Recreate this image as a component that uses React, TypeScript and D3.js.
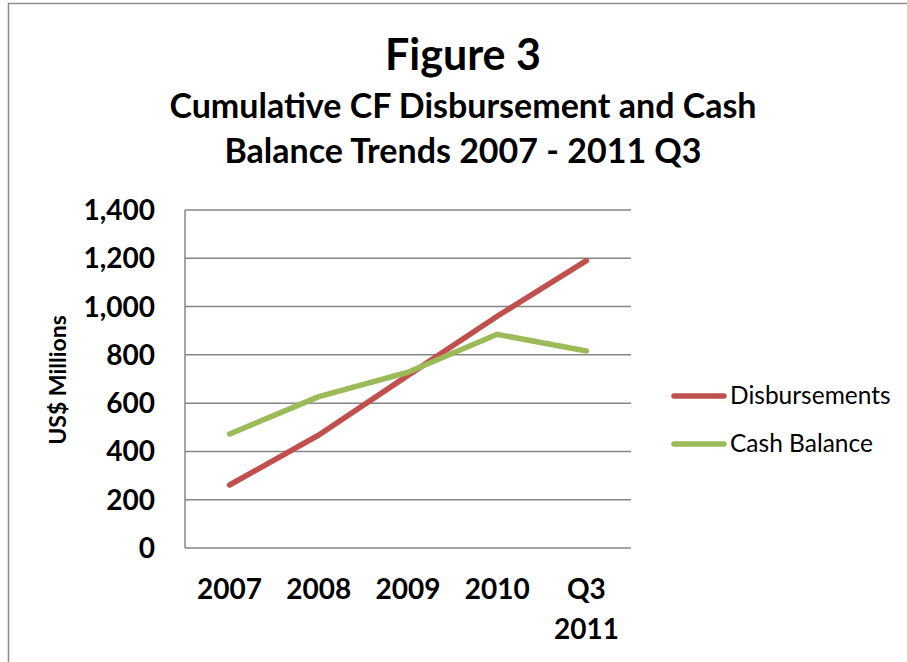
import React from "react";
import * as d3 from "d3";

// данные с графика
const categories = ["2007", "2008", "2009", "2010", "Q3 2011"];
const disbursements = [261, 468, 715, 960, 1190];
const cashBalance = [472, 627, 728, 885, 816];
const yTicks = [0, 200, 400, 600, 800, 1000, 1200, 1400];

const series = [
	{ name: "Disbursements", values: disbursements, color: "#C0504D" },
	{ name: "Cash Balance", values: cashBalance, color: "#9BBB59" },
];

const W = 907;
const H = 662;
const plot = { left: 185, right: 631, top: 210, bottom: 548 };
const font = "Lato, 'Open Sans', sans-serif";

export default function App() {
	const xScale = d3
		.scaleBand()
		.domain(categories)
		.range([plot.left, plot.right]);
	const yScale = d3
		.scaleLinear()
		.domain([0, 1400])
		.range([plot.bottom, plot.top]);
	const cx = (c: string) => (xScale(c) || 0) + xScale.bandwidth() / 2;

	const line = d3
		.line<number>()
		.x((_, i) => cx(categories[i]))
		.y((d) => yScale(d));

	const fmt = d3.format(",");

	return (
		<svg
			width={W}
			height={H}
			style={{ position: "absolute", left: 0, top: 0, background: "#fff" }}
			fontFamily={font}
		>
			<rect x={8.5} y={3.5} width={1000} height={1000} fill="#fff" stroke="#8c8c8c" strokeWidth={1.5} />

			{/* заголовок */}
			<g textAnchor="middle" fontWeight="bold" fill="#000">
				<text x={463} y={70} fontSize={43}>Figure 3</text>
				<text x={463} y={118} fontSize={34}>Cumulative CF Disbursement and Cash</text>
				<text x={463} y={163} fontSize={34}>Balance Trends 2007 - 2011 Q3</text>
			</g>

			{/* сетка */}
			{yTicks.map((t) => (
				<line
					key={t}
					x1={plot.left}
					x2={plot.right}
					y1={yScale(t)}
					y2={yScale(t)}
					stroke="#868686"
					strokeWidth={1.5}
				/>
			))}
			<line x1={plot.left} x2={plot.left} y1={plot.top} y2={plot.bottom} stroke="#868686" strokeWidth={1.5} />

			{/* подписи оси Y */}
			<g textAnchor="end" fontWeight="bold" fontSize={28}>
				{yTicks.map((t) => (
					<text key={t} x={155} y={yScale(t) + 10}>{fmt(t)}</text>
				))}
			</g>
			<text
				transform="translate(66,380) rotate(-90)"
				textAnchor="middle"
				fontWeight="bold"
				fontSize={23}
			>
				US$ Millions
			</text>

			{/* подписи оси X */}
			<g textAnchor="middle" fontWeight="bold" fontSize={28}>
				{categories.map((c) => (
					<text key={c} x={cx(c)} y={599}>
						{c.split(" ").map((part, i) => (
							<tspan key={i} x={cx(c)} dy={i === 0 ? 0 : 40}>{part}</tspan>
						))}
					</text>
				))}
			</g>

			{/* линии */}
			{series.map((s) => (
				<path
					key={s.name}
					d={line(s.values) || ""}
					fill="none"
					stroke={s.color}
					strokeWidth={5.5}
					strokeLinecap="round"
					strokeLinejoin="round"
				/>
			))}

			{/* легенда */}
			{series.map((s, i) => (
				<g key={s.name} transform={`translate(0, ${396 + i * 48})`}>
					<line x1={674} x2={724} y1={0} y2={0} stroke={s.color} strokeWidth={5.5} strokeLinecap="round" />
					<text x={730} y={8} fontSize={24.5}>{s.name}</text>
				</g>
			))}
		</svg>
	);
}
